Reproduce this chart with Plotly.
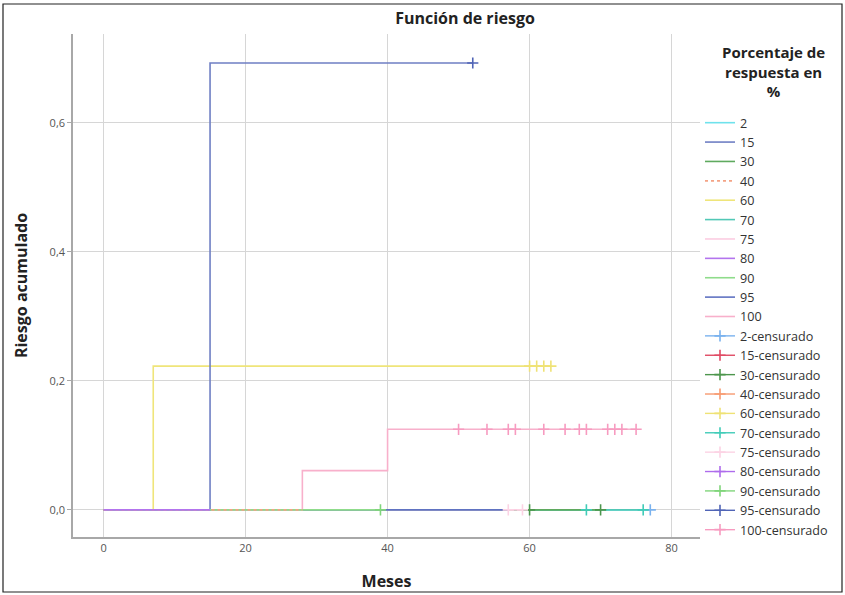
import plotly.graph_objects as go

# ---- data ----
groups = ["2", "15", "30", "40", "60", "70", "75", "80", "90", "95", "100"]
line_colors = {"2": "#6fe2ec", "15": "#6f7fc4", "30": "#5faa5f", "40": "#f4a385",
               "60": "#efe57a", "70": "#52c8b6", "75": "#fccde1", "80": "#b374ee",
               "90": "#8fdc8b", "95": "#6073c2", "100": "#f8b0cb"}
cens_colors = {"2": "#7ab2ee", "15": "#e04a64", "30": "#4d964d", "40": "#f79a70",
               "60": "#efe275", "70": "#41ccb8", "75": "#fcd3e4", "80": "#ae6cec",
               "90": "#80d57b", "95": "#5064b6", "100": "#f79bc0"}

# step functions: time points and cumulative hazard
step_x = {
    "2": [0, 77], "15": [0, 15, 52], "30": [0, 70], "40": [0, 28],
    "60": [0, 7, 63], "70": [0, 76], "75": [0, 59], "80": [0, 15],
    "90": [0, 39], "95": [0, 57], "100": [0, 28, 40, 75],
}
step_y = {
    "2": [0, 0], "15": [0, 0.693, 0.693], "30": [0, 0], "40": [0, 0],
    "60": [0, 0.223, 0.223], "70": [0, 0], "75": [0, 0], "80": [0, 0],
    "90": [0, 0], "95": [0, 0], "100": [0, 0.061, 0.125, 0.125],
}
cens_x = {
    "2": [77], "15": [], "30": [60, 70], "40": [], "60": [60, 61, 62, 63],
    "70": [68, 76], "75": [57, 59], "80": [], "90": [39], "95": [52],
    "100": [50, 54, 57, 58, 62, 65, 67, 68, 71, 72, 73, 75],
}
cens_y = {
    "2": [0], "15": [], "30": [0, 0], "40": [], "60": [0.223] * 4,
    "70": [0, 0], "75": [0, 0], "80": [], "90": [0], "95": [0.693],
    "100": [0.125] * 12,
}
x_ticks = [0, 20, 40, 60, 80]
y_ticks = [0.0, 0.2, 0.4, 0.6]

# ---- figure ----
fig = go.Figure()
draw_order = ["2", "70", "30", "75", "95", "100", "60", "15", "90", "40", "80"]
rank = {g: i for i, g in enumerate(groups)}
for g in draw_order:
    fig.add_trace(go.Scatter(
        x=step_x[g], y=step_y[g], mode="lines", name=g, line_shape="hv",
        line=dict(color=line_colors[g], width=1.6, dash="dot" if g == "40" else "solid"),
        legendrank=rank[g] + 1, hoverinfo="skip"))

for g in groups:
    xs, ys = [], []
    for a, b in zip(cens_x[g], cens_y[g]):
        xs += [a, None]
        ys += [b, None]
    if not xs:
        xs, ys = [None], [None]
    fig.add_trace(go.Scatter(
        x=xs, y=ys, mode="lines+markers", name=g + "-censurado",
        line=dict(color=cens_colors[g], width=1.4), connectgaps=False,
        marker=dict(symbol="cross-thin", size=8, line=dict(width=1.6, color=cens_colors[g]),
                    color=cens_colors[g]),
        legendrank=100 + rank[g], hoverinfo="skip"))

# plot area in pixels: x 73..700, y 34..537
W, H = 845, 595
L, R, T, B = 73, 700, 34, 537
pw, ph = R - L, B - T
def px(x): return (x - L) / pw
def py(y): return (B - y) / ph

fig.add_shape(type="rect", xref="paper", yref="paper",
              x0=px(3), x1=px(842), y0=py(592), y1=py(4),
              line=dict(color="#222222", width=1.2), layer="below")

fig.add_annotation(xref="paper", yref="paper", x=px(773), y=py(71),
                   xanchor="center", yanchor="middle", showarrow=False, align="center",
                   text="<b>Porcentaje de<br>respuesta en<br>%</b>",
                   font=dict(size=15, color="#222222"))

fig.update_layout(
    width=W, height=H,
    margin=dict(l=L, r=W - R, t=T, b=H - B, autoexpand=False),
    paper_bgcolor="white", plot_bgcolor="white",
    separators=", ",
    font=dict(family="Open Sans, Noto Sans, sans-serif", color="#333333"),
    title=dict(text="<b>Función de riesgo</b>", x=465 / W, xanchor="center",
               y=1 - 18 / H, yanchor="middle",
               font=dict(size=16, color="#222222")),
    xaxis=dict(range=[-4.3, 84], tickvals=x_ticks, ticktext=[str(v) for v in x_ticks],
               automargin=False,
               showgrid=True, gridcolor="#d6d6d6", gridwidth=1.3, zeroline=False,
               showline=True, linecolor="#a8a8a8", linewidth=1.5,
               tickfont=dict(size=11, color="#555555"),
               title=dict(text="<b>Meses</b>", font=dict(size=16, color="#222222"), standoff=22)),
    yaxis=dict(range=[-0.042, 0.738], tickvals=y_ticks, tickformat=".1f",
               automargin=False,
               showgrid=True, gridcolor="#d6d6d6", gridwidth=1.3, zeroline=False,
               showline=True, linecolor="#a8a8a8", linewidth=1.5,
               ticks="outside", ticklen=4, tickcolor="#a8a8a8",
               tickfont=dict(size=11, color="#555555"),
               title=dict(text="<b>Riesgo acumulado</b>", font=dict(size=16, color="#222222"), standoff=18)),
    legend=dict(x=1.0, xanchor="left", y=py(108), yanchor="top",
                font=dict(size=12.6, color="#333333"), maxheight=1,
                bgcolor="rgba(0,0,0,0)", tracegroupgap=0, itemwidth=30),
    showlegend=True,
)

fig.write_html("out.html")
